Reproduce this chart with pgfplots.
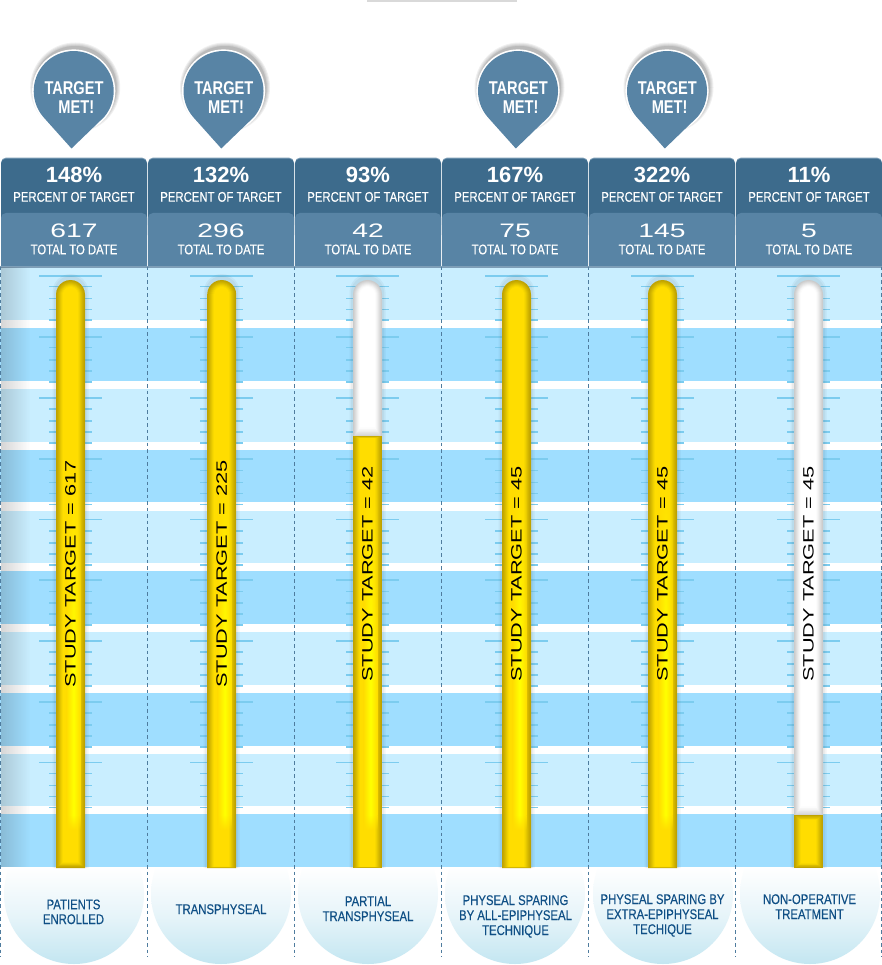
\documentclass[border=0pt]{standalone}
\usepackage{fontspec}
\usepackage{pgfplots}
\usepackage{pgfplotstable}
\pgfplotsset{compat=1.18}
\usetikzlibrary{fadings}
\setmainfont{Liberation Sans}
\newfontfamily\cond[FakeStretch=0.81,FakeBold=0.25]{Liberation Sans}
\newfontfamily\condb[FakeStretch=0.79]{Liberation Sans}
\newfontfamily\wide[FakeStretch=1.45]{Liberation Sans}

\definecolor{headdark}{HTML}{3D6B8C}
\definecolor{headlight}{HTML}{5884A5}
\definecolor{headedge}{HTML}{7E9FB8}
\definecolor{bandlight}{HTML}{C9EEFF}
\definecolor{banddark}{HTML}{9FDEFF}
\definecolor{tickblue}{HTML}{7CCCEF}
\definecolor{dashblue}{HTML}{4F7C9E}
\definecolor{captext}{HTML}{0F4F85}
\definecolor{bubmid}{HTML}{E6F4F9}
\definecolor{bubend}{HTML}{C3E6F1}
\definecolor{y0}{HTML}{BFA200}
\definecolor{y1}{HTML}{C6A900}
\definecolor{y2}{HTML}{CFB200}
\definecolor{y3}{HTML}{D9BC00}
\definecolor{y4}{HTML}{E4C600}
\definecolor{y5}{HTML}{EFD000}
\definecolor{y6}{HTML}{F8D800}
\definecolor{y7}{HTML}{FFDD00}
\definecolor{w0}{HTML}{CBCBCB}
\definecolor{w1}{HTML}{D3D3D3}
\definecolor{w2}{HTML}{DCDCDC}
\definecolor{w3}{HTML}{E5E5E5}
\definecolor{w4}{HTML}{EEEEEE}
\definecolor{w5}{HTML}{F6F6F6}
\definecolor{w6}{HTML}{FCFCFC}
\definecolor{w7}{HTML}{FFFFFF}

% tube outline: u across, v up the cap, v=-9 means the bottom edge
\pgfplotstableread{
u v
-1 -9
-1 0
-0.966 0.259
-0.866 0.5
-0.707 0.707
-0.5 0.866
-0.259 0.966
0 1
0.259 0.966
0.5 0.866
0.707 0.707
0.866 0.5
0.966 0.259
1 0
1 -9
}\capshape
% flat-topped part of a tube
\pgfplotstableread{
u t
-1 0
1 0
1 1
-1 1
}\flatshape

% tick rows on the scale
\pgfplotstableread{
y
276
337
398
459
519.5
580
641
702
762.3
}\majorticks
\pgfplotstableread{
y
286.3
298.5
309.3
320
347.8
360
371
382
409
421
432
443
470.7
482.3
493.3
504.3
531
543
554
565
591.5
603
614
625
652
664
675
686
713
725
736
747
773.5
785.3
796.3
807.3
}\minorticks

% pins and bubbles sit at these points
\pgfplotstableread{
x y
73.7 91
223.5 91
518 91
667 91
}\pins
\pgfplotstableread{
x y
74 894
221 894
368 894
515 894
663 894
810 894
}\bubbles

\pgfdeclareverticalshading{bubshade}{100bp}{color(0bp)=(bubend); color(25bp)=(bubend); color(42bp)=(bubmid); color(60bp)=(white); color(100bp)=(white)}
\pgfdeclareplotmark{pin}{%
  \foreach \r in {45,44,43,42,41.5}{\fill[draw=none,black,opacity=0.06] (1.5pt,3.5pt) circle (\r pt);}
  \fill[draw=none,white] (0pt,0pt) circle (41.6pt);
  \fill[draw=none,headlight] (-30.4pt,-26pt) arc (220.5:-40.5:40pt) -- (-2.2pt,-57.5pt) -- cycle;
}
\pgfdeclareplotmark{bubble}{%
  \path[draw=none,shading=bubshade] (0pt,0pt) circle (70pt);
}

% x0 x1 top bottom colour
\newcommand\block[5]{\addplot[draw=none,fill=#5,forget plot] coordinates {(#1,#3) (#2,#3) (#2,#4) (#1,#4)} --cycle;}
\newcommand\panel[5]{\addplot[draw=none,fill=#5,rounded corners=5pt,forget plot] coordinates {(#1,#3) (#2,#3) (#2,#4) (#1,#4)} --cycle;}
\newcommand\colhead[2]{%
  \panel{#1}{#2}{157.6}{230}{headedge}
  \panel{#1}{#2}{158.6}{240}{headdark}
  \panel{#1}{#2}{213}{285}{headlight}
}
% centre, top, bottom, half width, colour
\newcommand\capped[5]{\addplot[draw=none,fill=#5,forget plot] table[x expr=#1+#4*\thisrow{u}, y expr={\thisrow{v}<-1 ? #3 : #2+#4-#4*\thisrow{v}}] {\capshape};}
\newcommand\flatpart[5]{\addplot[draw=none,fill=#5,forget plot] table[x expr=#1+#4*\thisrow{u}, y expr={#2+(#3-(#2))*\thisrow{t}}] {\flatshape};}
\newcommand\glow[2]{%
  \addplot[draw=none,fill=black,opacity=0.04,forget plot] table[x expr=#1+18*\thisrow{u}, y expr={\thisrow{v}<-1 ? #2 : 274+18-18*\thisrow{v}}] {\capshape};
  \addplot[draw=none,fill=black,opacity=0.04,forget plot] table[x expr=#1+16.5*\thisrow{u}, y expr={\thisrow{v}<-1 ? #2 : 276+16.5-16.5*\thisrow{v}}] {\capshape};
}
% centre, bottom, bottom step, colour prefix
\newcommand\tube[4]{%
  \capped{#1}{280}{#2}{14.5}{#40}
  \capped{#1}{281}{#2-1*#3}{13.5}{#41}
  \capped{#1}{282}{#2-2*#3}{12.5}{#42}
  \capped{#1}{283}{#2-3*#3}{11.5}{#43}
  \capped{#1}{284}{#2-4*#3}{10.5}{#44}
  \capped{#1}{285}{#2-5*#3}{9.5}{#45}
  \capped{#1}{286}{#2-6*#3}{8.5}{#46}
  \capped{#1}{287}{#2-7*#3}{7.5}{#47}
}
% centre, top of the fill, top step, bottom step
\newcommand\level[4]{%
  \flatpart{#1}{#2}{868}{14.5}{y0}
  \flatpart{#1}{#2+1*#3}{868-1*#4}{13.5}{y1}
  \flatpart{#1}{#2+2*#3}{868-2*#4}{12.5}{y2}
  \flatpart{#1}{#2+3*#3}{868-3*#4}{11.5}{y3}
  \flatpart{#1}{#2+4*#3}{868-4*#4}{10.5}{y4}
  \flatpart{#1}{#2+5*#3}{868-5*#4}{9.5}{y5}
  \flatpart{#1}{#2+6*#3}{868-6*#4}{8.5}{y6}
  \flatpart{#1}{#2+7*#3}{868-7*#4}{7.5}{y7}
}
\pgfdeclarehorizontalshading{hlight}{100bp}{color(0bp)=(y7); color(25bp)=(y7); color(50bp)=(yellow); color(75bp)=(y7); color(100bp)=(y7)}
% x0 x1 of the bright streak
\newcommand\streak[2]{%
  \addplot[draw=none,shading=hlight,path fading=north,forget plot] coordinates {(#1,480) (#2,480) (#2,660) (#1,660)} --cycle;
  \addplot[draw=none,shading=hlight,forget plot] coordinates {(#1,660) (#2,660) (#2,815) (#1,815)} --cycle;
  \addplot[draw=none,shading=hlight,path fading=south,forget plot] coordinates {(#1,815) (#2,815) (#2,830) (#1,830)} --cycle;
}
\newcommand\scalemarks[1]{%
  \addplot[draw=none,no marks,forget plot,error bars/.cd,x dir=both,x fixed=31.5,error mark=none,error bar style={tickblue,line width=1.3pt,solid}] table[x expr=#1,y=y] {\majorticks};
  \addplot[draw=none,no marks,forget plot,error bars/.cd,x dir=both,x fixed=21.5,error mark=none,error bar style={tickblue,line width=1.3pt,solid}] table[x expr=#1,y=y] {\minorticks};
}
\newcommand\dashline[1]{\addplot[dashblue,line width=1pt,dash pattern=on 3.5pt off 3pt,forget plot] coordinates {(#1,267) (#1,957)};}
% centre, percent, total
\newcommand\head[3]{%
  \node[white,anchor=base,font=\fontsize{22}{22}\selectfont\bfseries] at (axis cs:#1,183) {#2\%};
  \node[white,anchor=base,font=\cond\fontsize{14}{14}\selectfont] at (axis cs:#1,201.7) {PERCENT OF TARGET};
  \node[white,anchor=base,font=\wide\fontsize{19.5}{20}\selectfont] at (axis cs:#1,237.3) {#3};
  \node[white,anchor=base,font=\cond\fontsize{14}{14}\selectfont] at (axis cs:#1,254.3) {TOTAL TO DATE};
}
\newcommand\target[3]{\node[black,anchor=base,rotate=90,font=\wide\fontsize{15}{15}\selectfont] at (axis cs:#1+5.2,#3) {STUDY TARGET = #2};}
\newcommand\colcap[3]{\node[captext,anchor=base,font=\cond\fontsize{14}{14}\selectfont] at (axis cs:#1,#2) {#3};}
\newcommand\met[1]{%
  \node[white,anchor=base,font=\condb\bfseries\fontsize{18.5}{18}\selectfont] at (axis cs:#1+0.3,95) {TARGET};
  \node[white,anchor=base,font=\condb\bfseries\fontsize{18.5}{18}\selectfont] at (axis cs:#1+2.6,113.3) {MET!};
}

\begin{document}
\begin{tikzpicture}
\begin{axis}[
  width=882pt, height=965pt, scale only axis,
  xmin=0, xmax=882, ymin=0, ymax=965, y dir=reverse,
  clip marker paths=true,
  hide axis]

  \block{0}{882}{0}{965}{white}
  \block{367}{517}{0}{2.3}{black!15}

  % bubbles under the bands
  \addplot[only marks,mark=bubble,forget plot] table[x=x,y=y] {\bubbles};

  % target pins
  \addplot[only marks,mark=pin,forget plot] table[x=x,y=y] {\pins};

  % header panels
  \colhead{1}{147} \colhead{148}{294} \colhead{295}{441}
  \colhead{442}{588} \colhead{589}{735} \colhead{736}{882}

  % bands
  \block{0}{882}{267}{867}{white}
  \block{0}{882}{267}{320}{bandlight}
  \block{0}{882}{328}{381}{banddark}
  \block{0}{882}{389}{441.5}{bandlight}
  \block{0}{882}{449.5}{502}{banddark}
  \block{0}{882}{510.5}{563}{bandlight}
  \block{0}{882}{571}{624}{banddark}
  \block{0}{882}{632}{684.5}{bandlight}
  \block{0}{882}{692.5}{745.5}{banddark}
  \block{0}{882}{753.5}{806}{bandlight}
  \block{0}{882}{814}{867}{banddark}
  \block{0}{882}{266.4}{267.6}{headedge}
  \addplot[draw=none,fill=black!80,opacity=0.2,path fading=east,forget plot] coordinates {(1,267) (30,267) (30,867) (1,867)} --cycle;

  \scalemarks{70.5} \scalemarks{221.7} \scalemarks{367.5} \scalemarks{516.5} \scalemarks{662.5} \scalemarks{808.5}
  \dashline{0.6} \dashline{147.5} \dashline{294.6} \dashline{441.5} \dashline{588.5} \dashline{735.4} \dashline{881.4}

  % tubes: yellow up to the level reached, white above it
  \glow{70.5}{868} \glow{221.7}{868} \glow{367.5}{868} \glow{516.5}{868} \glow{662.5}{868} \glow{808.5}{868}
  \tube{70.5}{868}{0.8}{y}
  \tube{221.7}{868}{0.2}{y}
  \tube{367.5}{438}{1.5}{w}
  \tube{516.5}{868}{0.2}{y}
  \tube{662.5}{868}{0.2}{y}
  \tube{808.5}{817}{1.5}{w}

  % filled parts of the two short columns
  \level{367.5}{436}{0.3}{0.2}
  \level{808.5}{815}{0.7}{0.7}

  \streak{66.5}{80.5} \streak{217.7}{231.7} \streak{363.5}{377.5} \streak{512.5}{526.5} \streak{658.5}{672.5}

  \head{74}{148}{617}
  \head{221}{132}{296}
  \head{368}{93}{42}
  \head{515}{167}{75}
  \head{662}{322}{145}
  \head{809}{11}{5}

  \met{73.7} \met{223.5} \met{518} \met{667}

  \target{70.5}{617}{574}
  \target{221.7}{225}{574}
  \target{367.5}{42}{574}
  \target{516.5}{45}{574}
  \target{662.5}{45}{574}
  \target{808.5}{45}{574}

  \colcap{73.5}{909.3}{PATIENTS}
  \colcap{73.5}{924}{ENROLLED}
  \colcap{221}{914}{TRANSPHYSEAL}
  \colcap{368}{906}{PARTIAL}
  \colcap{368}{921}{TRANSPHYSEAL}
  \colcap{515.5}{905}{PHYSEAL SPARING}
  \colcap{515.5}{920}{BY ALL-EPIPHYSEAL}
  \colcap{515.5}{935}{TECHNIQUE}
  \colcap{662.5}{904}{PHYSEAL SPARING BY}
  \colcap{662.5}{919}{EXTRA-EPIPHYSEAL}
  \colcap{662.5}{934}{TECHIQUE}
  \colcap{809.5}{904}{NON-OPERATIVE}
  \colcap{809.5}{919}{TREATMENT}
\end{axis}
\end{tikzpicture}
\end{document}
